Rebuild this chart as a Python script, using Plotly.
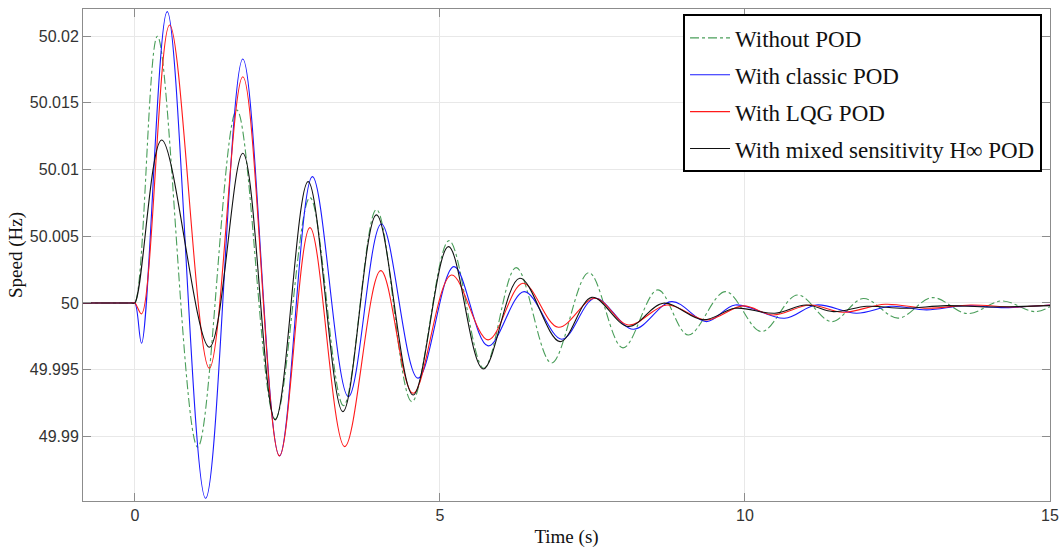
import plotly.graph_objects as go

# ---- data (extrema of each trace) ----
green_t = [-0.85, -0.4, -0.05, 0.0, 0.37, 1.03, 1.67, 2.30, 2.87, 3.42, 3.96, 4.54, 5.15, 5.72,
           6.25, 6.83, 7.44, 8.00, 8.57, 9.07, 9.68, 10.27, 10.86, 11.42, 11.94, 12.51, 13.07,
           13.65, 14.21, 14.75, 15.0]
green_v = [50.0, 50.0, 50.0, 50.0, 50.0200, 49.9892, 50.01447, 49.9913, 50.0079, 49.9923,
           50.0070, 49.9926, 50.00467, 49.9951, 50.00265, 49.99550, 50.00227, 49.99663,
           50.00098, 49.9976, 50.00085, 49.99785, 50.0006, 49.9986, 50.00033, 49.99886,
           50.0004, 49.9992, 50.00015, 49.99935, 49.99972]

blue_t = [-0.85, -0.4, -0.05, 0.0, 0.11, 0.53, 1.16, 1.77, 2.37, 2.91, 3.50, 4.04, 4.64, 5.23,
          5.79, 6.38, 7.00, 7.54, 8.17, 8.80, 9.37, 9.84, 10.65, 11.17, 11.83, 12.4, 12.98,
          13.6, 14.2, 15.0]
blue_v = [50.0, 50.0, 50.0, 50.0, 49.99698, 50.02184, 49.98536, 50.01829, 49.98853, 50.00947,
          49.99298, 50.00592, 49.99436, 50.00272, 49.99678, 50.00085, 49.99728, 50.00035,
          49.99803, 50.0001, 49.9986, 49.99985, 49.99885, 49.99985, 49.99923, 49.99975,
          49.99948, 49.9998, 49.99965, 49.99985]

red_t = [-0.85, -0.4, -0.05, 0.0, 0.11, 0.57, 1.22, 1.77, 2.37, 2.87, 3.44, 4.03, 4.56, 5.19,
         5.79, 6.36, 6.94, 7.54, 8.09, 8.72, 9.37, 9.97, 10.46, 11.07, 11.6, 12.3, 13.0, 13.7,
         14.4, 15.0]
red_v = [50.0, 50.0, 50.0, 50.0, 49.99918, 50.02084, 49.9951, 50.01696, 49.98853, 50.00565,
         49.98923, 50.00242, 49.99323, 50.0021, 49.99723, 50.00148, 49.99818, 50.00035,
         49.99835, 49.99985, 49.99873, 49.99978, 49.9991, 49.99985, 49.9993, 49.9999,
         49.9996, 49.99985, 49.9997, 49.99985]

black_t = [-0.85, -0.4, -0.05, 0.0, 0.44, 1.22, 1.77, 2.30, 2.84, 3.41, 3.96, 4.56, 5.14, 5.71,
           6.31, 6.97, 7.49, 8.09, 8.66, 9.32, 9.84, 10.49, 11.0, 11.45, 12.0, 12.6, 13.3,
           14.0, 15.0]
black_v = [50.0, 50.0, 50.0, 50.0, 50.01222, 49.99668, 50.01122, 49.99123, 50.0091, 49.99185,
           50.0066, 49.9931, 50.00422, 49.99505, 50.00185, 49.9971, 50.00042, 49.99823,
           49.99998, 49.99873, 49.9996, 49.99923, 49.99985, 49.99935, 49.99975, 49.9996,
           49.9998, 49.9997, 49.9998]

names = ["Without POD", "With classic POD", "With LQG POD", "With mixed sensitivity H\u221e POD"]
x_ticks = [0, 5, 10, 15]
y_ticks = [49.99, 49.995, 50, 50.005, 50.01, 50.015, 50.02]
y_tick_text = ["49.99", "49.995", "50", "50.005", "50.01", "50.015", "50.02"]

series = [
    (green_t, green_v, "#4a9e5a", "dashdot", 1.1),
    (blue_t, blue_v, "#1a1aff", "solid", 1.1),
    (red_t, red_v, "#ff1a1a", "solid", 1.1),
    (black_t, black_v, "#111111", "solid", 1.1),
]

fig = go.Figure()
for i, ((t, v, c, d, w), n) in enumerate(zip(series, names)):
    fig.add_trace(go.Scatter(
        x=t, y=v, mode="lines", name=n, legendgroup=f"g{i}",
        line=dict(color=c, dash=d, width=w, shape="spline", smoothing=1.0),
    ))

axis_common = dict(
    showgrid=True, gridcolor="#e8e8e8", gridwidth=1,
    showline=True, linecolor="#8c8c8c", linewidth=1, mirror="allticks",
    ticks="inside", ticklen=8, tickcolor="#8c8c8c",
    zeroline=False, automargin=False,
    tickfont=dict(family="Liberation Sans, Arial, sans-serif", size=16, color="#333333"),
)

fig.update_layout(
    width=1062, height=553,
    margin=dict(l=83, r=12, t=9, b=52),
    paper_bgcolor="white", plot_bgcolor="white",
    xaxis=dict(range=[-0.85, 15], tickvals=x_ticks,
               title=dict(text="Time (s)", standoff=6,
                          font=dict(family="Liberation Serif, Times New Roman, serif", size=19, color="#111111")),
               **axis_common),
    yaxis=dict(range=[49.98515, 50.02204], tickvals=y_ticks, ticktext=y_tick_text,
               title=dict(text="Speed (Hz)", standoff=2,
                          font=dict(family="Liberation Serif, Times New Roman, serif", size=19, color="#111111")),
               **axis_common),
    legend=dict(
        x=0.6205, y=0.989, xanchor="left", yanchor="top",
        bgcolor="white", bordercolor="#000000", borderwidth=2,
        font=dict(family="Liberation Serif, Times New Roman, serif", size=23, color="#111111"),
        tracegroupgap=4, itemwidth=40,
    ),
    showlegend=True,
)

# remove the default page margin so the figure sits at the window's corner
fig.write_html(
    "out.html",
    config={"displayModeBar": False},
    post_script="document.body.style.margin='0';document.body.style.overflow='hidden';",
)
